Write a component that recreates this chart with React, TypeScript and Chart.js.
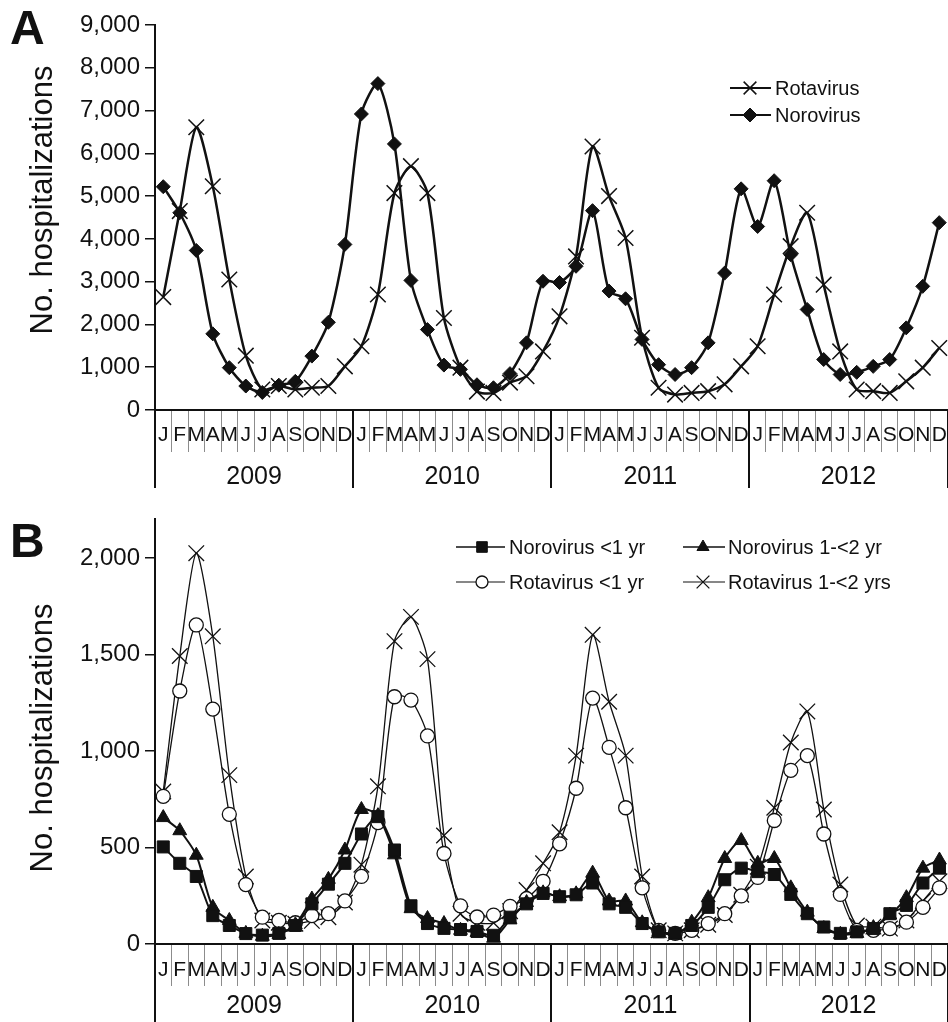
import React, { useEffect, useRef } from 'react';
import { Chart, registerables } from 'chart.js';
import { drawPoint } from 'chart.js/helpers';

Chart.register(...registerables);

// ---------------- data ----------------
const monthLetters = ['J', 'F', 'M', 'A', 'M', 'J', 'J', 'A', 'S', 'O', 'N', 'D'];
const years = ['2009', '2010', '2011', '2012'];
const axisTitle = 'No. hospitalizations';

// Panel A
const yMaxA = 9000;
const yTicksA = [0, 1000, 2000, 3000, 4000, 5000, 6000, 7000, 8000, 9000];
const rotavirusAll = [
  2640, 4650, 6610, 5230, 3050, 1270, 480, 560, 480, 520, 560, 1020,
  1490, 2700, 5070, 5700, 5070, 2150, 990, 430, 400, 640, 790, 1370,
  2190, 3590, 6160, 5000, 4020, 1690, 520, 360, 400, 440, 600, 1020,
  1490, 2700, 3830, 4610, 2930, 1370, 480, 440, 400, 670, 990, 1450,
];
const norovirusAll = [
  5220, 4610, 3730, 1780, 990, 560, 410, 580, 670, 1260, 2050, 3870,
  6920, 7630, 6220, 3030, 1880, 1050, 950, 590, 520, 850, 1570, 3010,
  2980, 3360, 4660, 2780, 2600, 1650, 1060, 830, 990, 1570, 3200, 5170,
  4290, 5360, 3630, 2350, 1180, 830, 880, 1020, 1180, 1920, 2890, 4380,
];

// Panel B
const yMaxB = 2200;
const yTicksB = [0, 500, 1000, 1500, 2000];
const noroUnder1 = [
  503, 418, 350, 147, 96, 54, 46, 55, 96, 208, 310, 418,
  570, 660, 487, 198, 106, 81, 75, 65, 45, 139, 208, 262,
  245, 255, 316, 208, 190, 106, 63, 55, 96, 190, 333, 393,
  375, 360, 257, 157, 88, 55, 63, 80, 157, 200, 316, 393,
];
const noro1to2 = [
  655, 587, 460, 190, 122, 55, 40, 50, 100, 233, 335, 487,
  697, 665, 462, 183, 132, 106, 71, 60, 30, 125, 215, 265,
  245, 260, 367, 223, 223, 110, 65, 50, 113, 240, 443, 536,
  418, 443, 291, 165, 80, 50, 55, 85, 150, 240, 393, 435,
];
const rotaUnder1 = [
  765, 1311, 1653, 1217, 672, 308, 139, 122, 110, 147, 157, 223,
  350, 629, 1281, 1264, 1078, 469, 198, 140, 150, 195, 235, 325,
  519, 807, 1274, 1019, 706, 291, 71, 55, 71, 106, 157, 249,
  345, 640, 900, 976, 570, 257, 71, 71, 80, 113, 190, 291,
];
const rota1to2 = [
  790, 1492, 2025, 1594, 875, 350, 122, 110, 105, 120, 139, 215,
  411, 817, 1569, 1695, 1476, 562, 157, 110, 110, 170, 280, 418,
  579, 976, 1602, 1255, 976, 350, 71, 55, 71, 100, 150, 255,
  400, 706, 1044, 1205, 697, 308, 96, 90, 80, 122, 223, 325,
];

// ---------------- styling ----------------
const INK = '#111111';
const SANS = '"Liberation Sans", Arial, Helvetica, sans-serif';
const NARROW = '"Liberation Sans Narrow", "Arial Narrow", "Liberation Sans", sans-serif';
const CANVAS_W = 960;

const categories = years.flatMap(() => monthLetters);

const decorPlugin = {
  id: 'decor',
  afterDraw(chart: any, _args: any, opts: any) {
    const { ctx, chartArea, scales } = chart;
    const x = scales.x;
    ctx.save();
    // year separators
    ctx.strokeStyle = INK;
    ctx.lineWidth = 2;
    for (let i = 0; i <= years.length; i++) {
      const px = Math.round(x.getPixelForValue(i * 12 - 0.5));
      ctx.beginPath();
      ctx.moveTo(px, chartArea.bottom - 1);
      ctx.lineTo(px, chartArea.bottom + opts.yearLineLen);
      ctx.stroke();
    }
    // year labels
    ctx.fillStyle = INK;
    ctx.font = `${opts.yearFontSize}px ${SANS}`;
    ctx.textAlign = 'center';
    ctx.textBaseline = 'middle';
    years.forEach((yr, i) => {
      ctx.fillText(yr, x.getPixelForValue(i * 12 + 5.5), chartArea.bottom + opts.yearLabelOffset);
    });
    // axis title
    ctx.save();
    ctx.translate(opts.titleX, opts.titleY);
    ctx.rotate(-Math.PI / 2);
    ctx.font = `${opts.titleFontSize}px ${SANS}`;
    ctx.fillText(axisTitle, 0, 0);
    ctx.restore();
    // legend
    for (const item of opts.legend) {
      const ds = chart.data.datasets[item.index];
      ctx.strokeStyle = INK;
      ctx.lineWidth = item.lineWidth;
      ctx.beginPath();
      ctx.moveTo(item.x0, item.y);
      ctx.lineTo(item.x1, item.y);
      ctx.stroke();
      ctx.fillStyle = ds.pointBackgroundColor;
      ctx.strokeStyle = INK;
      ctx.lineWidth = ds.pointBorderWidth;
      drawPoint(ctx, { pointStyle: ds.pointStyle, radius: item.r, borderWidth: ds.pointBorderWidth, rotation: 0 }, item.mx, item.y);
      ctx.fillStyle = INK;
      ctx.font = `20px ${SANS}`;
      ctx.textAlign = 'left';
      ctx.textBaseline = 'middle';
      ctx.fillText(ds.label, item.tx, item.y + 1);
    }
    ctx.restore();
  },
};

function xScale(height: number, padding: number) {
  return {
    type: 'category',
    offset: true,
    afterFit: (s: any) => { s.height = height; },
    grid: { offset: true, drawOnChartArea: false, drawTicks: true, tickLength: 42, color: '#8c8c8c', lineWidth: 1 },
    border: { color: INK, width: 2 },
    ticks: {
      autoSkip: false, maxRotation: 0, minRotation: 0, padding,
      color: INK, font: { family: NARROW, size: 21, lineHeight: 1 },
    },
  };
}

function yScale(max: number, tickValues: number[]) {
  return {
    min: 0,
    max,
    afterFit: (s: any) => { s.width = 155; },
    afterBuildTicks: (s: any) => { s.ticks = tickValues.map((v) => ({ value: v })); },
    ticks: {
      padding: 5, color: INK,
      font: { family: SANS, size: 24 },
      callback: (v: any) => Number(v).toLocaleString('en-US'),
    },
    grid: { drawOnChartArea: false, tickLength: 10, color: INK, lineWidth: 1.5 },
    border: { color: INK, width: 2 },
  };
}

function line(label: string, data: number[], style: string, radius: number, width: number, bg: string, pbw: number) {
  return {
    label, data,
    borderColor: INK, borderWidth: width,
    pointStyle: style, pointRadius: radius, pointBorderWidth: pbw,
    pointBorderColor: INK, pointBackgroundColor: bg,
    tension: 0.25, clip: false, fill: false,
  };
}

function configA(): any {
  return {
    type: 'line',
    data: {
      labels: categories,
      datasets: [
        line('Rotavirus', rotavirusAll, 'crossRot', 11, 2.5, INK, 1.5),
        line('Norovirus', norovirusAll, 'rectRot', 7, 2.5, INK, 1),
      ],
    },
    options: {
      responsive: false, animation: false, events: [],
      layout: { padding: { top: 25, right: 7, left: 0, bottom: 0 } },
      plugins: {
        legend: { display: false }, tooltip: { enabled: false },
        decor: {
          yearLineLen: 78, yearLabelOffset: 67, yearFontSize: 25,
          titleX: 43, titleY: 200, titleFontSize: 31,
          legend: [
            { index: 0, x0: 730, x1: 771, mx: 750, y: 88, tx: 775, r: 9, lineWidth: 2 },
            { index: 1, x0: 730, x1: 771, mx: 750, y: 115, tx: 775, r: 7, lineWidth: 2 },
          ],
        },
      },
      scales: { x: xScale(90, -27.5), y: yScale(yMaxA, yTicksA) },
    },
    plugins: [decorPlugin],
  };
}

function configB(): any {
  return {
    type: 'line',
    data: {
      labels: categories,
      datasets: [
        line('Norovirus <1 yr', noroUnder1, 'rect', 8.5, 2, INK, 1),
        line('Norovirus 1-<2 yr', noro1to2, 'triangle', 8, 2, INK, 1),
        line('Rotavirus <1 yr', rotaUnder1, 'circle', 7, 1.3, '#ffffff', 1.3),
        line('Rotavirus 1-<2 yrs', rota1to2, 'crossRot', 11, 1.3, INK, 1.3),
      ],
    },
    options: {
      responsive: false, animation: false, events: [],
      layout: { padding: { top: 11, right: 7, left: 0, bottom: 0 } },
      plugins: {
        legend: { display: false }, tooltip: { enabled: false },
        decor: {
          yearLineLen: 80, yearLabelOffset: 62, yearFontSize: 25,
          titleX: 43, titleY: 238, titleFontSize: 31,
          legend: [
            { index: 0, x0: 456, x1: 505, mx: 482, y: 47, tx: 509, r: 7.5, lineWidth: 1.5 },
            { index: 1, x0: 683, x1: 725, mx: 703, y: 47, tx: 728, r: 7, lineWidth: 1.5 },
            { index: 2, x0: 456, x1: 505, mx: 482, y: 82, tx: 509, r: 6, lineWidth: 1.2 },
            { index: 3, x0: 683, x1: 725, mx: 703, y: 82, tx: 728, r: 9, lineWidth: 1.2 },
          ],
        },
      },
      scales: { x: xScale(78, -26.5), y: yScale(yMaxB, yTicksB) },
    },
    plugins: [decorPlugin],
  };
}

function Panel({ make, top, height }: { make: () => any; top: number; height: number }) {
  const ref = useRef<HTMLCanvasElement | null>(null);
  useEffect(() => {
    const chart = new Chart(ref.current as HTMLCanvasElement, make());
    return () => chart.destroy();
  }, []);
  return (
    <canvas
      ref={ref}
      width={CANVAS_W}
      height={height}
      style={{ position: 'absolute', left: 0, top, width: CANVAS_W, height, display: 'block' }}
    />
  );
}

const panelLetter: React.CSSProperties = {
  position: 'absolute', fontFamily: SANS, fontWeight: 'bold', fontSize: 48,
  lineHeight: '48px', color: INK,
};

export default function App() {
  return (
    <div style={{ position: 'fixed', left: 0, top: 0, width: 948, height: 1022, overflow: 'hidden', background: '#fff' }}>
      <Panel make={configA} top={0} height={500} />
      <Panel make={configB} top={500} height={522} />
      <div style={{ ...panelLetter, left: 10, top: 4 }}>A</div>
      <div style={{ ...panelLetter, left: 10, top: 517 }}>B</div>
    </div>
  );
}
